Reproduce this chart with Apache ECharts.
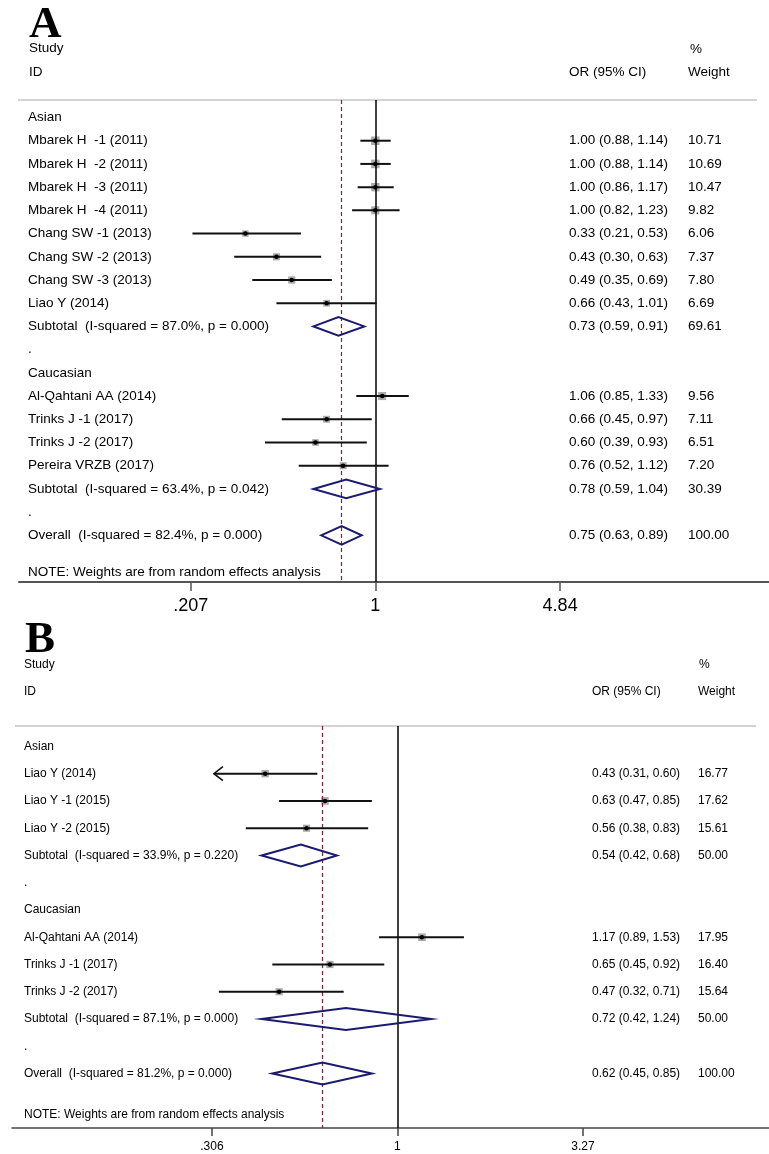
<!DOCTYPE html>
<html><head><meta charset="utf-8">
<script src="https://cdn.jsdelivr.net/npm/echarts@6/dist/echarts.min.js"></script>
<style>html,body{margin:0;padding:0;background:#fff}#c{width:769px;height:1154px}</style>
</head><body><div id="c"></div>
<script>
// ---------- Panel A data ----------
const A_labels = ['Asian','Mbarek H  -1 (2011)','Mbarek H  -2 (2011)','Mbarek H  -3 (2011)','Mbarek H  -4 (2011)','Chang SW -1 (2013)','Chang SW -2 (2013)','Chang SW -3 (2013)','Liao Y (2014)','Subtotal  (I-squared = 87.0%, p = 0.000)','.','Caucasian','Al-Qahtani AA (2014)','Trinks J -1 (2017)','Trinks J -2 (2017)','Pereira VRZB (2017)','Subtotal  (I-squared = 63.4%, p = 0.042)','.','Overall  (I-squared = 82.4%, p = 0.000)'];
const A_kind = ['group','study','study','study','study','study','study','study','study','sub','dot','group','study','study','study','study','sub','dot','all'];
const A_or = [null,1.00,1.00,1.00,1.00,0.33,0.43,0.49,0.66,0.73,null,null,1.06,0.66,0.60,0.76,0.78,null,0.75];
const A_lo = [null,0.88,0.88,0.86,0.82,0.21,0.30,0.35,0.43,0.59,null,null,0.85,0.45,0.39,0.52,0.59,null,0.63];
const A_hi = [null,1.14,1.14,1.17,1.23,0.53,0.63,0.69,1.01,0.91,null,null,1.33,0.97,0.93,1.12,1.04,null,0.89];
const A_wt = [null,10.71,10.69,10.47,9.82,6.06,7.37,7.80,6.69,69.61,null,null,9.56,7.11,6.51,7.20,30.39,null,100.00];
const A_arrow = [0,0,0,0,0,0,0,0,0,0,0,0,0,0,0,0,0,0,0];
const A_ticks = [0.207, 1, 4.84];
const A_tickLabels = ['.207','1','4.84'];
const A_overall = 0.75;

// ---------- Panel B data ----------
const B_labels = ['Asian','Liao Y (2014)','Liao Y -1 (2015)','Liao Y -2 (2015)','Subtotal  (I-squared = 33.9%, p = 0.220)','.','Caucasian','Al-Qahtani AA (2014)','Trinks J -1 (2017)','Trinks J -2 (2017)','Subtotal  (I-squared = 87.1%, p = 0.000)','.','Overall  (I-squared = 81.2%, p = 0.000)'];
const B_kind = ['group','study','study','study','sub','dot','group','study','study','study','sub','dot','all'];
const B_or = [null,0.43,0.63,0.56,0.54,null,null,1.17,0.65,0.47,0.72,null,0.62];
const B_lo = [null,0.31,0.47,0.38,0.42,null,null,0.89,0.45,0.32,0.42,null,0.45];
const B_hi = [null,0.60,0.85,0.83,0.68,null,null,1.53,0.92,0.71,1.24,null,0.85];
const B_wt = [null,16.77,17.62,15.61,50.00,null,null,17.95,16.40,15.64,50.00,null,100.00];
const B_arrow = [0,1,0,0,0,0,0,0,0,0,0,0,0];
const B_ticks = [0.306, 1, 3.27];
const B_tickLabels = ['.306','1','3.27'];
const B_overall = 0.62;

const FONT = "'Liberation Sans', Arial, Helvetica, sans-serif";
const SERIF = "'Liberation Serif', 'Times New Roman', serif";
const NAVY = '#1a1a6e';
const MAROON = '#8e1f2f';

function fmt(v){ return v.toFixed(2); }

function buildSeries(idx, P){
  const boxes=[], pts=[], ci=[], dia=[], rows=[];
  P.labels.forEach((lab,i)=>{
    rows.push([1,i]);
    const k = P.kind[i];
    if(k==='study'){
      boxes.push({value:[P.or[i], i], symbolSize:P.boxK*Math.sqrt(P.wt[i])});
      pts.push([P.or[i], i]);
      ci.push([P.lo[i], P.hi[i], i, P.arrow[i]]);
    } else if(k==='sub' || k==='all'){
      dia.push([P.lo[i], P.or[i], P.hi[i], i]);
    }
  });
  const font = P.fontSize + 'px ' + FONT;
  return [
    { type:'scatter', xAxisIndex:idx, yAxisIndex:idx, data:boxes, symbol:'rect',
      itemStyle:{color:'#ababab', opacity:1}, z:2, silent:true,
      markLine:{ silent:true, symbol:['none','none'], label:{show:false}, z:3,
        data:[
          {xAxis:1, lineStyle:{color:'#000', width:1.5, type:'solid'}},
          {xAxis:P.overall, lineStyle:{color:MAROON, width:1.2, type:[4,3]}}
        ] } },
    { type:'custom', xAxisIndex:idx, yAxisIndex:idx, data:ci, encode:{x:[0,1], y:2}, z:4, silent:true,
      renderItem:(params, api)=>{
        const r = api.value(2);
        const p1 = api.coord([api.value(0), r]);
        const p2 = api.coord([api.value(1), r]);
        const ch = [{type:'line', shape:{x1:p1[0],y1:p1[1],x2:p2[0],y2:p2[1]}, style:{stroke:'#111', lineWidth:2}}];
        if(api.value(3)){
          ch.push({type:'polyline', shape:{points:[[p1[0]+9,p1[1]-7],[p1[0],p1[1]],[p1[0]+9,p1[1]+7]]}, style:{stroke:'#111', lineWidth:1.6, fill:null}});
        }
        return {type:'group', children:ch};
      } },
    { type:'scatter', xAxisIndex:idx, yAxisIndex:idx, data:pts, symbol:'circle', symbolSize:P.dotSize,
      itemStyle:{color:'#000', opacity:1}, z:5, silent:true },
    { type:'custom', xAxisIndex:idx, yAxisIndex:idx, data:dia, encode:{x:[0,1,2], y:3}, z:4, silent:true,
      renderItem:(params, api)=>{
        const r = api.value(3);
        const l = api.coord([api.value(0), r]);
        const c = api.coord([api.value(1), r]);
        const rr = api.coord([api.value(2), r]);
        const h = api.coord([api.value(1), r + 0.4])[1] - c[1];
        return {type:'polygon', shape:{points:[l,[c[0],c[1]-h],rr,[c[0],c[1]+h]]},
          style:{stroke:NAVY, lineWidth:2, fill:null}};
      } },
    { type:'custom', xAxisIndex:idx, yAxisIndex:idx, data:rows, encode:{x:0, y:1}, z:6, silent:true,
      renderItem:(params, api)=>{
        const i = api.value(1);
        const y = api.coord([1, i])[1];
        const ch = [{type:'text', style:{text:P.labels[i], x:P.nameX, y:y, verticalAlign:'middle', align:'left', font:font, fill:'#000'}}];
        if(P.or[i] != null){
          ch.push({type:'text', style:{text:fmt(P.or[i])+' ('+fmt(P.lo[i])+', '+fmt(P.hi[i])+')', x:P.statX, y:y, verticalAlign:'middle', align:'left', font:font, fill:'#000'}});
          ch.push({type:'text', style:{text:fmt(P.wt[i]), x:P.wtX, y:y, verticalAlign:'middle', align:'left', font:font, fill:'#000'}});
        }
        return {type:'group', children:ch};
      } }
  ];
}

function xAxisFor(idx, P){
  return { type:'log', gridIndex:idx, min:P.xmin, max:P.xmax, logBase:Math.E, position:'bottom',
    axisLine:{show:true, onZero:false, lineStyle:{color:P.axisColor, width:P.axisWidth}},
    axisTick:{show:true, customValues:P.ticks, length:P.tickLen, lineStyle:{color:P.axisColor, width:1.5}},
    axisLabel:{show:true, customValues:P.ticks, fontSize:P.tickFont, fontFamily:FONT, color:'#000', margin:P.labelMargin,
      formatter:(v)=>{ let best=0, bd=1e9; P.ticks.forEach((t,k)=>{const d=Math.abs(Math.log(t)-Math.log(v)); if(d<bd){bd=d;best=k;}}); return P.tickLabels[best]; } },
    splitLine:{show:false}, minorTick:{show:false}, minorSplitLine:{show:false} };
}

const PA = {labels:A_labels, kind:A_kind, or:A_or, lo:A_lo, hi:A_hi, wt:A_wt, arrow:A_arrow, overall:A_overall,
  ticks:A_ticks, tickLabels:A_tickLabels, boxK:2.6, dotSize:4.5, fontSize:13.5, nameX:28, statX:569, wtX:688,
  xmin:0.0478, xmax:28.77, axisColor:'#555', axisWidth:2, tickLen:9, tickFont:18, labelMargin:15};
const PB = {labels:B_labels, kind:B_kind, or:B_or, lo:B_lo, hi:B_hi, wt:B_wt, arrow:B_arrow, overall:B_overall,
  ticks:B_ticks, tickLabels:B_tickLabels, boxK:1.8, dotSize:4.5, fontSize:12, nameX:24, statX:592, wtX:698,
  xmin:0.0854, xmax:10.73, axisColor:'#444', axisWidth:1.5, tickLen:8, tickFont:12, labelMargin:13};

function txt(text, x, y, size, extra){
  return Object.assign({type:'text', x:x, y:y, silent:true, style:{text:text, font:size+'px '+FONT, fill:'#000', verticalAlign:'middle', align:'left'}}, extra||{});
}

const option = {
  animation:false,
  backgroundColor:'#fff',
  grid:[
    {left:19, right:0, top:100, height:482, containLabel:false},
    {left:12, right:0, top:726, height:402, containLabel:false}
  ],
  xAxis:[xAxisFor(0, PA), xAxisFor(1, PB)],
  yAxis:[
    {type:'value', gridIndex:0, inverse:true, min:-0.754, max:20.01, show:false},
    {type:'value', gridIndex:1, inverse:true, min:-0.75, max:14.0, show:false}
  ],
  graphic:[
    {type:'text', x:29, y:25, silent:true, style:{text:'A', font:'bold 45px '+SERIF, fill:'#000', verticalAlign:'middle'}},
    txt('Study', 29, 48, 13.5), txt('ID', 29, 72, 13.5),
    txt('%', 690, 49, 13.5), txt('OR (95% CI)', 569, 72, 13.5), txt('Weight', 688, 72, 13.5),
    {type:'line', silent:true, shape:{x1:18,y1:100,x2:757,y2:100}, style:{stroke:'#c4c4c4', lineWidth:1.5}},
    txt('NOTE: Weights are from random effects analysis', 28, 572, 13.5),

    {type:'text', x:25, y:640, silent:true, style:{text:'B', font:'bold 45px '+SERIF, fill:'#000', verticalAlign:'middle'}},
    txt('Study', 24, 665, 12), txt('ID', 24, 692, 12),
    txt('%', 699, 665, 12), txt('OR (95% CI)', 592, 692, 12), txt('Weight', 698, 692, 12),
    {type:'line', silent:true, shape:{x1:15,y1:726,x2:756,y2:726}, style:{stroke:'#c4c4c4', lineWidth:1.5}},
    txt('NOTE: Weights are from random effects analysis', 24, 1115, 12)
  ],
  series: buildSeries(0, PA).concat(buildSeries(1, PB))
};

const chart = echarts.init(document.getElementById('c'), null, {renderer:'canvas', width:769, height:1154});
chart.setOption(option);
</script>
</body></html>
